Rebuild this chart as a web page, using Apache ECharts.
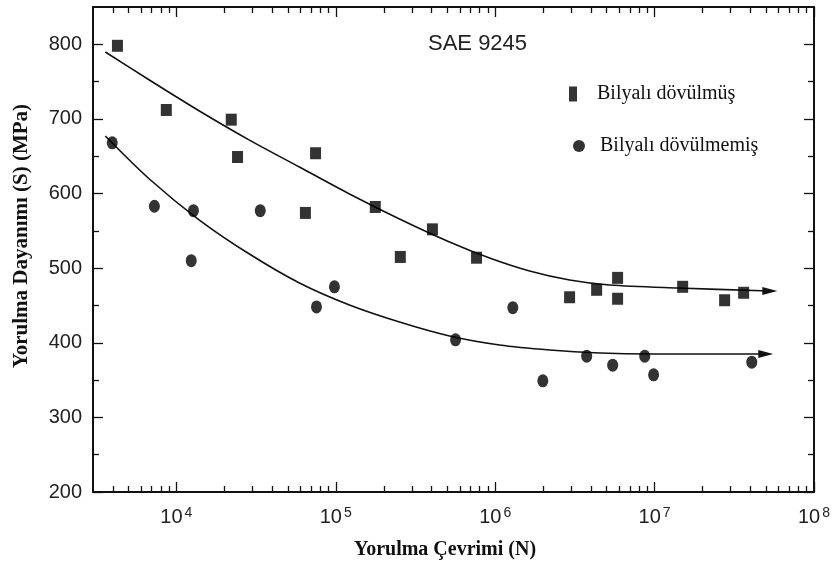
<!DOCTYPE html>
<html>
<head>
<meta charset="utf-8">
<script src="https://cdn.jsdelivr.net/npm/echarts@6/dist/echarts.min.js"></script>
<style>html,body{margin:0;padding:0;background:#fff;}#c{width:837px;height:566px;}</style>
</head>
<body>
<div id="c"></div>
<script>
// ---- data ----
const peenedName = 'Bilyalı dövülmüş';
const unpeenedName = 'Bilyalı dövülmemiş';
const peenedN = [4270, 8650, 22100, 24200, 74700, 64500, 177000, 254000, 404000, 764000, 2.93e6, 4.33e6, 5.86e6, 5.86e6, 1.50e7, 2.75e7, 3.62e7];
const peenedS = [798, 712, 699, 649, 654, 574, 582, 515, 552, 514, 461, 471, 487, 459, 475, 457, 467];
const unpeenedN = [3960, 7280, 12800, 12400, 33600, 75700, 98100, 564000, 1.29e6, 1.99e6, 3.75e6, 5.46e6, 8.67e6, 9.86e6, 4.07e7];
const unpeenedS = [668, 583, 577, 510, 577, 448, 475, 404, 447, 349, 382, 370, 382, 357, 374];
const peenedFitN = [3584, 6769, 13946, 28730, 59180, 121900, 251100, 517300, 922100, 1.644e6, 2.931e6, 5.226e6, 1.405e7, 5.28e7];
const peenedFitS = [789.7, 752.1, 710.6, 671.6, 635.5, 599.4, 565.9, 535.0, 513.6, 496.2, 484.1, 477.4, 473.4, 469.4];
const unpeenedFitN = [3584, 6769, 13946, 28730, 59180, 121900, 251100, 517300, 1.066e6, 2.196e6, 4.523e6, 9.318e6, 4.98e7];
const unpeenedFitS = [677.1, 619.5, 564.5, 518.9, 480.1, 450.6, 427.8, 409.1, 397.0, 390.3, 386.3, 384.9, 384.9];
const xMajorTicks = [1e4, 1e5, 1e6, 1e7, 1e8];
const xTickExponents = ['4', '5', '6', '7', '8'];
const xDecades = [1e3, 1e4, 1e5, 1e6, 1e7];
const xMinorMultipliers = [2, 3, 4, 5, 6, 7, 8, 9];
const yMajorTicks = [200, 300, 400, 500, 600, 700, 800];
const yMinorTicks = [250, 350, 450, 550, 650, 750];
const xRange = [3000, 1e8];
const yRange = [200, 850];
const annotation = 'SAE 9245';
const xTitle = 'Yorulma Çevrimi (N)';
const yTitle = 'Yorulma Dayanımı (S) (MPa)';

// ---- build ----
const xMinorTicks = [];
xDecades.forEach(d => xMinorMultipliers.forEach(m => {
  const v = d * m;
  if (v > xRange[0] && v < xRange[1]) xMinorTicks.push(v);
}));
const zip = (a, b) => a.map((v, i) => [v, b[i]]);
const expOf = v => xTickExponents[xMajorTicks.findIndex(t => Math.abs(t - v) / t < 1e-6)];

const ink = '#111';
const sansFont = "'Liberation Sans', Arial, sans-serif";
const serifFont = "'Liberation Serif', 'Times New Roman', serif";

function xAxisDef(position, ticks, len, withLabels, withLine) {
  return {
    type: 'log', logBase: 10, min: xRange[0], max: xRange[1], position: position,
    axisLine: { show: withLine, onZero: false, lineStyle: { color: ink, width: 2 } },
    axisTick: { show: true, inside: true, length: len, customValues: ticks, lineStyle: { color: ink, width: 1.3 } },
    splitLine: { show: false }, minorTick: { show: false },
    axisLabel: withLabels ? {
      show: true, customValues: xMajorTicks, margin: 14,
      formatter: v => '{a|10}{b|' + expOf(v) + '}',
      rich: {
        a: { fontFamily: sansFont, fontSize: 20, color: '#222', lineHeight: 22 },
        b: { fontFamily: sansFont, fontSize: 14, color: '#222', verticalAlign: 'top', lineHeight: 22, padding: [0, 0, 0, 2] }
      }
    } : { show: false }
  };
}
function yAxisDef(position, ticks, len, withLabels, withLine) {
  return {
    type: 'value', min: yRange[0], max: yRange[1], interval: 100, position: position,
    axisLine: { show: withLine, onZero: false, lineStyle: { color: ink, width: 2 } },
    axisTick: { show: true, inside: true, length: len, customValues: ticks, lineStyle: { color: ink, width: 1.3 } },
    splitLine: { show: false },
    axisLabel: withLabels ? { show: true, customValues: yMajorTicks, margin: 11, fontFamily: sansFont, fontSize: 20, color: '#222' } : { show: false }
  };
}
function fitData(ns, ss) {
  return zip(ns, ss).map((p, i, arr) => i === arr.length - 1
    ? { value: p, symbol: 'triangle', symbolSize: [8, 15], symbolRotate: -90 } : { value: p });
}

const chart = echarts.init(document.getElementById('c'), null, { renderer: 'canvas' });
chart.setOption({
  backgroundColor: '#fff',
  animation: false,
  grid: { left: 93, right: 23, top: 7, bottom: 74, containLabel: false },
  xAxis: [
    xAxisDef('bottom', xMajorTicks, 10, true, true),
    xAxisDef('bottom', xMinorTicks, 6, false, false),
    xAxisDef('top', xMajorTicks, 10, false, true),
    xAxisDef('top', xMinorTicks, 6, false, false)
  ],
  yAxis: [
    yAxisDef('left', yMajorTicks, 10, true, true),
    yAxisDef('left', yMinorTicks, 6, false, false),
    yAxisDef('right', yMajorTicks, 10, false, true),
    yAxisDef('right', yMinorTicks, 6, false, false)
  ],
  legend: [
    {
      data: [{ name: peenedName, icon: 'rect' }], left: 569, top: 84, padding: 0, itemWidth: 8, itemHeight: 15,
      textStyle: { fontFamily: serifFont, fontSize: 20, color: ink, padding: [0, 0, 0, 15] }, selectedMode: false
    },
    {
      data: [{ name: unpeenedName, icon: 'circle' }], left: 573, top: 136, padding: 0, itemWidth: 12, itemHeight: 12,
      textStyle: { fontFamily: serifFont, fontSize: 20, color: ink, padding: [0, 0, 0, 10] }, selectedMode: false
    }
  ],
  graphic: [
    { type: 'text', x: 428, y: 44, style: { text: annotation, font: '22px ' + sansFont, fill: '#222', textVerticalAlign: 'middle' } },
    { type: 'text', x: 445, y: 550, style: { text: xTitle, font: 'bold 20px ' + serifFont, fill: ink, textAlign: 'center', textVerticalAlign: 'middle' } },
    { type: 'text', x: 22, y: 236, rotation: Math.PI / 2, style: { text: yTitle, font: 'bold 21px ' + serifFont, fill: ink, textAlign: 'center', textVerticalAlign: 'middle' } }
  ],
  series: [
    {
      name: 'fit1', type: 'line', smooth: 0.3, symbol: 'none', showSymbol: true,
      lineStyle: { color: ink, width: 1.6 }, itemStyle: { color: ink }, z: 2,
      data: fitData(peenedFitN, peenedFitS)
    },
    {
      name: 'fit2', type: 'line', smooth: 0.3, symbol: 'none', showSymbol: true,
      lineStyle: { color: ink, width: 1.6 }, itemStyle: { color: ink }, z: 2,
      data: fitData(unpeenedFitN, unpeenedFitS)
    },
    {
      name: peenedName, type: 'scatter', symbol: 'rect', symbolSize: [11, 12],
      itemStyle: { color: '#000' }, z: 3, data: zip(peenedN, peenedS)
    },
    {
      name: unpeenedName, type: 'scatter', symbol: 'circle', symbolSize: [11, 13],
      itemStyle: { color: '#000' }, z: 3, data: zip(unpeenedN, unpeenedS)
    }
  ]
});
</script>
</body>
</html>
